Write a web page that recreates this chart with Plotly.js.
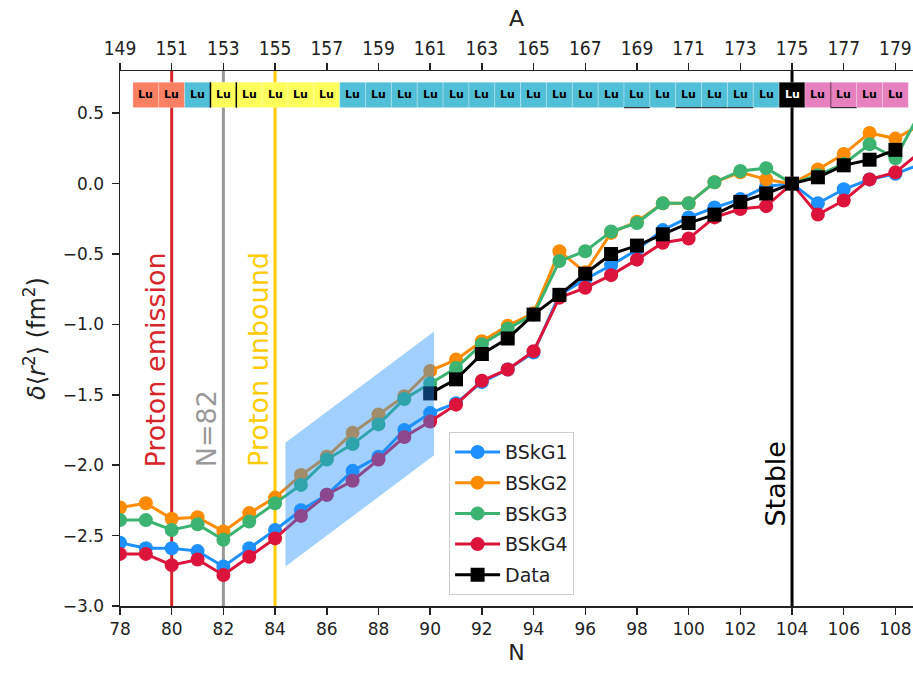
<!DOCTYPE html>
<html>
<head>
<meta charset="utf-8">
<script src="https://cdn.plot.ly/plotly-3.0.1.min.js"></script>
<style>
html,body{margin:0;padding:0;background:#fff;}
#chart{width:913px;height:673px;}
</style>
</head>
<body>
<div id="chart"></div>
<script>
// ---- data ----
const Z_LU = 71; // A = N + Z
const N = [78,79,80,81,82,83,84,85,86,87,88,89,90,91,92,93,94,95,96,97,98,99,100,101,102,103,104,105,106,107,108,109];
const bskg1 = [-2.55,-2.59,-2.59,-2.61,-2.72,-2.59,-2.46,-2.32,-2.21,-2.04,-1.94,-1.75,-1.63,-1.56,-1.41,-1.32,-1.20,-0.79,-0.68,-0.58,-0.47,-0.33,-0.24,-0.17,-0.11,-0.02,0.00,-0.14,-0.04,0.03,0.07,0.14];
const bskg2 = [-2.30,-2.27,-2.38,-2.37,-2.47,-2.34,-2.23,-2.07,-1.94,-1.77,-1.64,-1.51,-1.33,-1.25,-1.12,-1.01,-0.92,-0.48,-0.63,-0.35,-0.27,-0.14,-0.14,0.01,0.08,0.03,0.00,0.10,0.21,0.36,0.32,0.42];
const bskg3 = [-2.39,-2.39,-2.46,-2.42,-2.53,-2.40,-2.27,-2.14,-1.96,-1.85,-1.71,-1.53,-1.42,-1.31,-1.14,-1.03,-0.93,-0.55,-0.48,-0.34,-0.28,-0.14,-0.14,0.01,0.09,0.11,0.00,0.06,0.14,0.28,0.18,0.52];
const bskg4 = [-2.63,-2.63,-2.71,-2.67,-2.78,-2.65,-2.52,-2.36,-2.21,-2.11,-1.96,-1.80,-1.69,-1.57,-1.40,-1.32,-1.19,-0.81,-0.74,-0.65,-0.54,-0.42,-0.39,-0.24,-0.18,-0.16,0.00,-0.22,-0.12,0.03,0.08,0.23];
const dataN = [90,91,92,93,94,95,96,97,98,99,100,101,102,103,104,105,106,107,108];
const dataV = [-1.49,-1.39,-1.21,-1.10,-0.93,-0.79,-0.64,-0.50,-0.44,-0.36,-0.28,-0.22,-0.13,-0.07,0.00,0.045,0.13,0.17,0.24];

// isotope strip (one box per N)
const stripN = [79,80,81,82,83,84,85,86,87,88,89,90,91,92,93,94,95,96,97,98,99,100,101,102,103,104,105,106,107,108];
const stripKind = ['pe','pe','b','y','y','y','y','y','b','b','b','b','b','b','b','b','b','b','b','b','b','b','b','b','b','s','bm','bm','bm','bm'];
const stripLabel = 'Lu';
const underlineN = [98,100,101,102,106];

// reference lines
const refN = [80,82,84,104];
const refText = ['Proton emission','N=82','Proton unbound','Stable'];
const refColor = ['#d7262b','#999999','#ffcc00','#000000'];
const refTextBottom = [-2.03,-2.03,-2.03,-2.45];

// shaded band
const shadeN = [84.4, 90.15];
const shadeLo = [-2.72, -1.93];
const shadeHi = [-1.84, -1.05];

const xRange = [78, 108.68];
const yRange = [-3.0, 0.8];
const stripY = [0.54, 0.72];
const bottomTicks = [78,80,82,84,86,88,90,92,94,96,98,100,102,104,106,108];
const topTicks = [149,151,153,155,157,159,161,163,165,167,169,171,173,175,177,179];
const yTicks = [-3.0,-2.5,-2.0,-1.5,-1.0,-0.5,0.0,0.5];

// ---- styling ----
const FONT = 'DejaVu Sans, Verdana, sans-serif';
const kindColor = {pe:'#fa8064', b:'#52bfd8', y:'#ffff5c', s:'#000000', bm:'#e680be'};

const series = [
  {name:'BSkG1', y:bskg1, color:'#1e90ff'},
  {name:'BSkG2', y:bskg2, color:'#ff8c00'},
  {name:'BSkG3', y:bskg3, color:'#3cb371'},
  {name:'BSkG4', y:bskg4, color:'#dc143c'}
];
const traces = series.map((s,i) => ({
  x: N, y: s.y, name: s.name, type:'scatter', mode:'lines+markers',
  line:{color:s.color, width:3},
  marker:{color:s.color, size:14, symbol:'circle'},
  legendgroup:'g'+i, cliponaxis:true
}));
traces.push({
  x: dataN, y: dataV, name:'Data', type:'scatter', mode:'lines+markers',
  line:{color:'#000', width:3},
  marker:{color:'#000', size:14, symbol:'square'},
  legendgroup:'g4'
});
// top axis helper (invisible)
traces.push({x:[xRange[0]+Z_LU, xRange[1]+Z_LU], y:[yRange[0], yRange[0]], xaxis:'x2', yaxis:'y',
  mode:'markers', marker:{opacity:0}, showlegend:false, hoverinfo:'skip'});

const shapes = [];
const annotations = [];
refN.forEach((n,i) => {
  shapes.push({type:'line', xref:'x', yref:'y', x0:n, x1:n, y0:yRange[0], y1:yRange[1],
    line:{color:refColor[i], width:3}, layer:'below'});
  annotations.push({x:n-0.62, y:refTextBottom[i], xref:'x', yref:'y', text:refText[i],
    textangle:-90, showarrow:false, xanchor:'center', yanchor:'bottom',
    font:{family:FONT, size:27, color:refColor[i]}});
});
stripN.forEach((n,i) => {
  const k = stripKind[i];
  shapes.push({type:'rect', xref:'x', yref:'y', x0:n-0.5, x1:n+0.5, y0:stripY[0], y1:stripY[1],
    fillcolor:kindColor[k], line:{color:'rgba(255,255,255,0.25)', width:1}, layer:'above'});
  annotations.push({x:n, y:(stripY[0]+stripY[1])/2, xref:'x', yref:'y', text:'<b>'+stripLabel+'</b>',
    showarrow:false, font:{family:FONT, size:11, color: k==='s' ? '#fff' : '#000'}});
});
// magic N=82 borders
[81.5, 82.5].forEach(xv => shapes.push({type:'line', xref:'x', yref:'y', x0:xv, x1:xv, y0:stripY[0], y1:stripY[1],
  line:{color:'#000', width:1.5}, layer:'above'}));
shapes.push({type:'line', xref:'x', yref:'y', x0:105.5, x1:105.5, y0:stripY[0], y1:stripY[1],
  line:{color:'#7a3a60', width:1.2}, layer:'above'});
underlineN.forEach(n => shapes.push({type:'line', xref:'x', yref:'y', x0:n-0.5, x1:n+0.5, y0:stripY[0], y1:stripY[0],
  line:{color:'#333', width:1.2}, layer:'above'}));
// shaded parallelogram
shapes.push({type:'path', xref:'x', yref:'y',
  path:`M ${shadeN[0]},${shadeLo[0]} L ${shadeN[0]},${shadeHi[0]} L ${shadeN[1]},${shadeHi[1]} L ${shadeN[1]},${shadeLo[1]} Z`,
  fillcolor:'#1e90ff', opacity:0.42, line:{width:0}, layer:'above'});

const layout = {
  width:913, height:673,
  margin:{l:120, r:0, t:71, b:67, pad:0},
  paper_bgcolor:'#fff', plot_bgcolor:'#fff',
  font:{family:FONT, color:'#222'},
  showlegend:true,
  legend:{x:0.415, y:0.325, xanchor:'left', yanchor:'top', bgcolor:'rgba(255,255,255,0.85)',
    bordercolor:'#cccccc', borderwidth:1, font:{family:FONT, size:19, color:'#222'},
    tracegroupgap:3, itemwidth:45},
  xaxis:{range:xRange, tickvals:bottomTicks, ticks:'outside', ticklen:7, tickwidth:1.5, tickcolor:'#222',
    showline:true, linecolor:'#222', linewidth:1.5, showgrid:false, zeroline:false, mirror:false,
    tickfont:{family:FONT, size:17, color:'#222'},
    title:{text:'N', font:{family:FONT, size:22, color:'#222'}, standoff:6}},
  xaxis2:{range:[xRange[0]+Z_LU, xRange[1]+Z_LU], overlaying:'x', side:'top', anchor:'y',
    tickvals:topTicks, ticks:'outside', ticklen:7, tickwidth:1.5, tickcolor:'#222',
    showline:true, linecolor:'#222', linewidth:1.5, showgrid:false, zeroline:false,
    tickfont:{family:'Liberation Sans Narrow, DejaVu Sans Condensed, DejaVu Sans', size:19, color:'#222'},
    title:{text:'A', font:{family:FONT, size:22, color:'#222'}, standoff:4}},
  yaxis:{range:yRange, tickvals:yTicks, tickformat:'.1f', ticks:'outside', ticklen:7, tickwidth:1.5, tickcolor:'#222',
    showline:true, linecolor:'#222', linewidth:1.5, showgrid:false, zeroline:false,
    tickfont:{family:FONT, size:17, color:'#222'}, ticklabelstandoff:4,
    title:{text:'<i>δ</i>⟨<i>r</i><sup>2</sup>⟩ (fm<sup>2</sup>)', font:{family:FONT, size:24, color:'#222'}, standoff:10}},
  shapes: shapes,
  annotations: annotations
};

Plotly.newPlot('chart', traces, layout, {displayModeBar:false, staticPlot:true});
</script>
</body>
</html>
